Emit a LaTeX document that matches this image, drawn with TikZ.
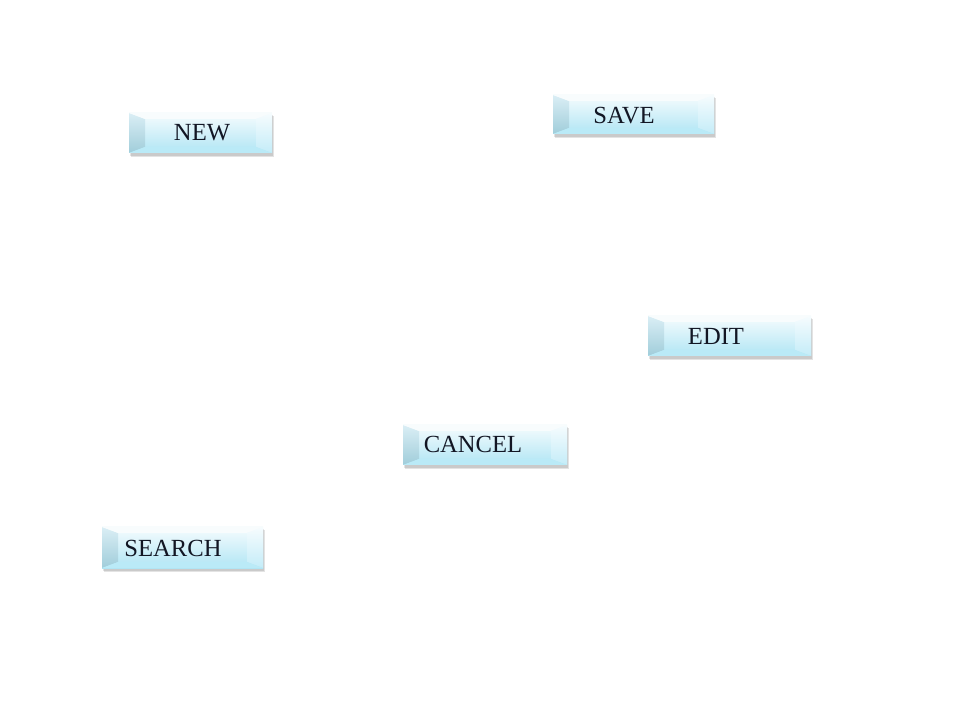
\documentclass[tikz,border=0pt]{standalone}
\usepackage{fontspec}
\setmainfont{Liberation Serif}
\definecolor{facetop}{RGB}{246,252,254}
\definecolor{facebot}{RGB}{176,229,244}
\definecolor{bevleft}{RGB}{160,205,218}
\definecolor{bevlefttop}{RGB}{218,238,245}
\definecolor{bevtop}{RGB}{248,252,253}
\definecolor{bevright}{RGB}{196,236,248}
\definecolor{bevbot}{RGB}{186,234,247}
\definecolor{btnink}{RGB}{18,22,36}
\tikzset{
  btnshadow/.style={fill=black, opacity=0.11},
  btntext/.style={text=btnink, font=\fontsize{17.5}{21}\selectfont, inner sep=0pt}
}
\begin{document}
\begin{tikzpicture}[x=0.025cm, y=-0.025cm]
    \useasboundingbox (0,0) rectangle (960,720);

        % Draw the buttons
    \foreach \name/\xa/\ya/\xb/\yb in {new/129/113/272/153, save/553/95/714/134, edit/648/316/811/356, cancel/403/425/567/465, search/102/527/263/568} {
        % shadow
        \fill[btnshadow] (\xa+1,\ya+2) rectangle (\xb+1,\yb+3);
        \fill[btnshadow] (\xa+2,\ya+3) rectangle (\xb+2,\yb+4);
        % face
        \shade[top color=facetop, bottom color=facebot] (\xa,\ya) rectangle (\xb,\yb);
        % bevel
        \shade[top color=bevlefttop, bottom color=bevleft] (\xa,\ya) -- (\xa+16,\ya+6) -- (\xa+16,\yb-6) -- (\xa,\yb) -- cycle;
        \fill[bevtop] (\xa,\ya) -- (\xb,\ya) -- (\xb-16,\ya+6) -- (\xa+16,\ya+6) -- cycle;
        \shade[top color=facetop, bottom color=bevright] (\xb,\ya) -- (\xb,\yb) -- (\xb-16,\yb-6) -- (\xb-16,\ya+6) -- cycle;
        \fill[bevbot] (\xa,\yb) -- (\xb,\yb) -- (\xb-16,\yb-6) -- (\xa+16,\yb-6) -- cycle;
        \coordinate (\name) at ({(\xa+\xb)/2},{(\ya+\yb)/2});
    }

        % Draw the labels
    \node[btntext] (newlabel) at (202,133) {NEW};
    \node[btntext] (savelabel) at (624,116) {SAVE};
    \node[btntext] (editlabel) at (716,336) {EDIT};
    \node[btntext] (cancellabel) at (473,444) {CANCEL};
    \node[btntext] (searchlabel) at (173,548) {SEARCH};
  \end{tikzpicture}
\end{document}
